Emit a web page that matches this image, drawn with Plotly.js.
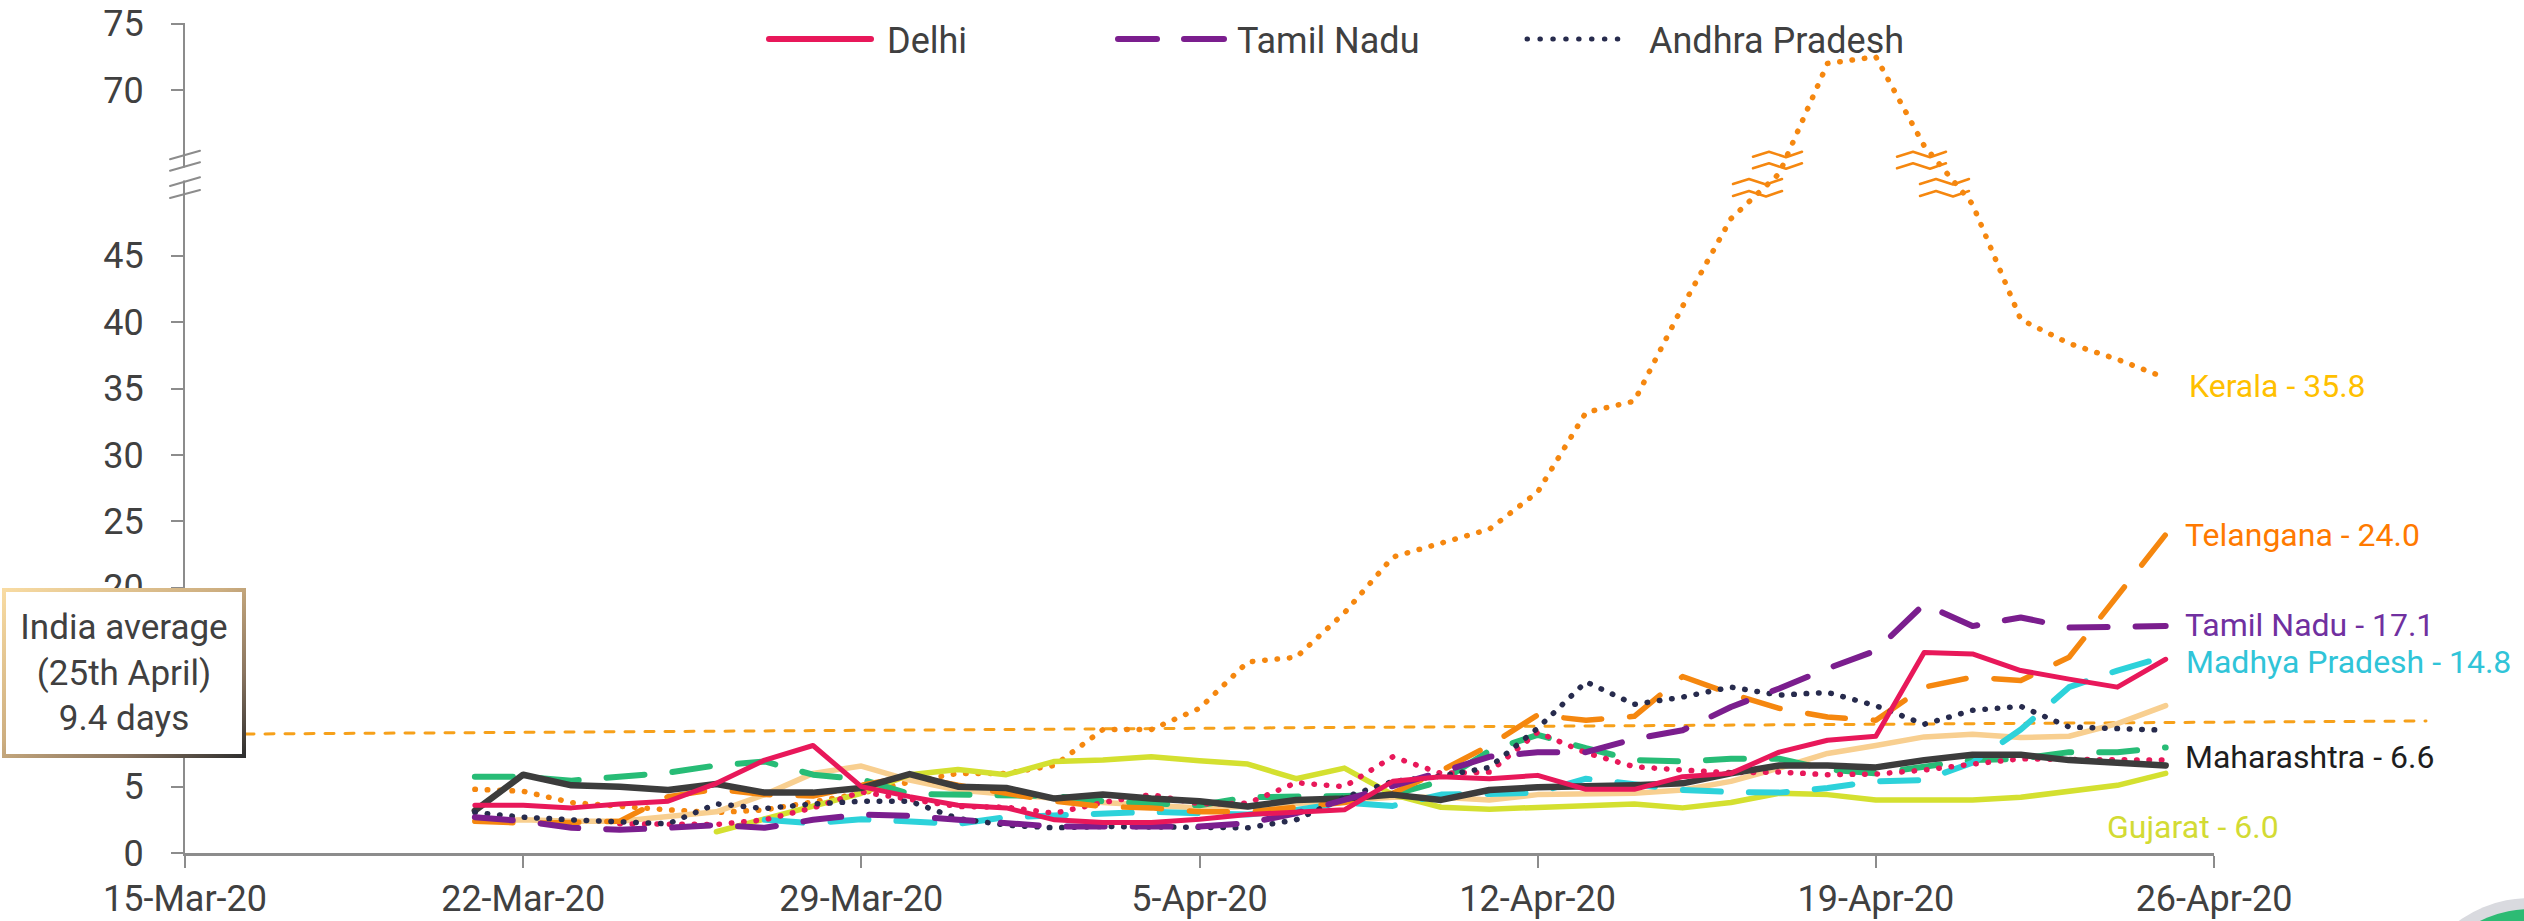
<!DOCTYPE html>
<html>
<head>
<meta charset="utf-8">
<script src="https://cdn.plot.ly/plotly-3.0.1.min.js"></script>
<style>
  html, body { margin: 0; padding: 0; background: #ffffff; }
  #chart { width: 2524px; height: 921px; }
</style>
</head>
<body>
<div id="chart"></div>
<script>
// ---------------- DATA ----------------
const dates = ['2020-03-21','2020-03-22','2020-03-23','2020-03-24','2020-03-25','2020-03-26','2020-03-27','2020-03-28','2020-03-29','2020-03-30','2020-03-31',
  '2020-04-01','2020-04-02','2020-04-03','2020-04-04','2020-04-05','2020-04-06','2020-04-07','2020-04-08','2020-04-09','2020-04-10','2020-04-11','2020-04-12',
  '2020-04-13','2020-04-14','2020-04-15','2020-04-16','2020-04-17','2020-04-18','2020-04-19','2020-04-20','2020-04-21','2020-04-22','2020-04-23','2020-04-24','2020-04-25'];

const delhi       = [3.6,3.6,3.4,3.7,3.9,5.25,7.0,8.1,5.0,4.25,3.6,3.4, 2.5,2.3,2.3,2.55,2.9,3.1,3.25,5.4,5.75,5.6,5.85,4.8, 4.8,5.75,6.0,7.6,8.5,8.8,15.1,15.0,13.75,13.1,12.5,14.6];
const tamilNadu   = [2.7,2.4,1.9,1.75,1.9,2.1,1.9,2.5,2.9,2.8,2.5,2.2, 2.0,2.0,2.0,2.0,2.25,3.0,4.0,5.0,6.1,7.25,7.6,7.6, 8.6,9.25,11.0,12.4,13.9,15.25,18.75,17.1,17.75,17.0,17.05,17.1];
const andhra      = [3.05,2.7,2.5,2.35,2.2,3.7,3.35,3.7,3.9,3.9,2.6,2.1, 1.9,2.0,2.0,1.95,1.9,2.5,4.2,5.4,5.8,6.45,9.4,12.9, 11.2,11.75,12.5,11.9,12.1,11.1,9.7,10.75,11.05,9.5,9.4,9.25];
const kerala      = [4.8,4.65,3.8,3.5,3.25,3.05,3.25,3.85,4.5,5.35,6.0,6.0, 6.6,9.3,9.3,10.9,14.4,14.75,18.1,22.3,23.3,24.4,27.2,33.2, 34.05,41.2,47.8,55.6,72.0,72.5,65.8,48.9,40.2,38.4,37.2,35.8];
const telangana   = [2.4,2.25,2.3,2.4,4.25,4.8,4.4,4.3,5.1,5.8,5.1,4.5, 3.9,3.5,3.4,3.1,3.1,3.45,3.8,4.5,6.2,8.1,10.4,10.0, 10.3,13.3,12.0,10.9,10.25,10.0,12.5,13.25,13.0,14.75,19.4,24.0];
const madhyaPr    = [null,null,null,null,null,null,2.5,2.25,2.55,2.4,2.2,2.7, 2.8,2.95,3.1,3.0,2.9,3.25,3.8,3.55,4.4,4.45,4.55,5.6, 5.2,4.75,4.6,4.55,4.9,5.4,5.5,6.8,9.3,12.5,13.75,14.8];
const maharashtra = [3.2,5.9,5.1,5.0,4.75,5.2,4.55,4.55,4.9,5.95,5.0,4.9, 4.1,4.4,4.1,3.9,3.5,4.0,4.1,4.4,4.0,4.75,4.95,5.0, 5.1,5.25,6.0,6.6,6.6,6.45,7.0,7.4,7.4,7.0,6.75,6.6];
const gujarat     = [null,null,null,null,null,1.6,2.6,3.55,4.5,5.9,6.3,5.9, 6.9,7.0,7.25,6.95,6.7,5.6,6.4,4.4,3.45,3.3,3.45,3.55, 3.7,3.4,3.8,4.5,4.4,4.0,4.0,4.0,4.2,4.6,5.1,6.0];
const rajasthan   = [2.4,2.5,2.4,2.4,2.75,3.1,4.4,6.0,6.55,5.5,4.75,4.4, 4.1,3.8,3.6,3.4,3.5,3.75,4.0,4.2,4.2,4.0,4.4,4.5, 4.5,4.75,5.4,6.4,7.5,8.1,8.75,8.95,8.7,8.8,9.75,11.1];
const uttarPr     = [5.75,5.75,5.45,5.7,6.05,6.6,6.9,5.9,5.55,4.45,4.4,4.4, 4.3,3.9,3.75,3.6,4.2,4.2,4.3,4.4,5.4,7.7,8.9,7.9, 7.0,6.9,7.1,7.1,6.3,6.0,6.5,7.0,7.1,7.6,7.6,7.95];
const karnataka   = [null,null,null,2.2,2.2,2.15,2.5,3.4,4.6,4.1,3.5,3.45, 3.0,3.8,4.4,3.7,3.75,5.3,5.0,7.25,6.0,6.1,9.1,7.55, 6.5,6.25,6.05,6.1,5.9,5.95,6.25,6.7,7.1,7.05,7.0,7.0];

const indiaAverage = 9.4;
const yTickValues = [0,5,10,15,20,25,30,35,40,45,70,75];
const yTickLabels = ['0','5','','','20','25','30','35','40','45','70','75']; // 10 and 15 sit under the India-average box
const xTickDates  = ['2020-03-15','2020-03-22','2020-03-29','2020-04-05','2020-04-12','2020-04-19','2020-04-26'];

// ---------------- BROKEN AXIS MAPPING ----------------
// values up to 50.5 keep their place, 50.5..65 are squeezed into the break, above 65 shifted down by 12.5
function mapY(v) {
  if (v === null || v === undefined) return null;
  if (v <= 50.5) return v;
  if (v >= 65) return v - 12.5;
  return 50.5 + (v - 50.5) * (2 / 14.5);
}
const mapArr = a => a.map(mapY);

// ---------------- LAYOUT GEOMETRY HELPERS ----------------
const W = 2524, H = 921;
const ML = 185, MR = 310, MT = 23, MB = 68;
const PW = W - ML - MR, PH = H - MT - MB;
const PX = px => (px - ML) / PW;           // pixel x -> paper x
const PY = py => (H - MB - py) / PH;        // pixel y -> paper y

const FONT = 'Roboto, "Open Sans", "DejaVu Sans", sans-serif';
const TXT = '#404040';

const C = {
  delhi: '#E8185A', tamil: '#7B1E8E', andhra: '#272B4D', kerala: '#F5870F',
  telangana: '#F5870F', mp: '#2DD2DA', maha: '#3C3C3C', guj: '#D4E030',
  raj: '#F8CF90', up: '#27BC76', kar: '#E8185A'
};

const DASH = '38px,28px';
const DOT = '0.5px,11.9px';

function tr(name, y, color, width, dash) {
  return {
    type: 'scatter', mode: 'lines', name: name, x: dates, y: mapArr(y),
    line: { color: color, width: width, dash: dash || 'solid', shape: 'linear' },
    connectgaps: false, hoverinfo: 'skip', showlegend: false
  };
}

const data = [
  tr('Kerala', kerala, C.kerala, 5.5, DOT),
  tr('Rajasthan', rajasthan, C.raj, 5.5),
  tr('Gujarat', gujarat, C.guj, 5.5),
  tr('Uttar Pradesh', uttarPr, C.up, 6, DASH),
  tr('Madhya Pradesh', madhyaPr, C.mp, 6, DASH),
  tr('Karnataka', karnataka, C.kar, 5.5, DOT),
  tr('Telangana', telangana, C.telangana, 5.5, DASH),
  tr('Maharashtra', maharashtra, C.maha, 6.5),
  tr('Andhra Pradesh', andhra, C.andhra, 5.5, DOT),
  tr('Tamil Nadu', tamilNadu, C.tamil, 6, DASH),
  tr('Delhi', delhi, C.delhi, 5)
];

// ---------------- SHAPES ----------------
const shapes = [];
// India average dashed line (slightly tilted as in the source)
shapes.push({ type: 'line', xref: 'paper', yref: 'y', x0: 0, x1: PX(2426),
  y0: indiaAverage - 0.46, y1: indiaAverage + 0.55, layer: 'below',
  line: { color: '#F6A01A', width: 3, dash: '9px,11px' } });

// axis break on y axis
shapes.push({ type: 'rect', xref: 'paper', yref: 'paper', x0: PX(180), x1: PX(190), y0: PY(180.5), y1: PY(167.5),
  fillcolor: '#ffffff', line: { width: 0 }, layer: 'above' });
[[159.3,150.7],[170.7,162.3],[186,177.3],[198,190]].forEach(p => {
  shapes.push({ type: 'line', xref: 'paper', yref: 'paper', x0: PX(170), x1: PX(200), y0: PY(p[0]), y1: PY(p[1]),
    line: { color: '#8C8C8C', width: 2 }, layer: 'above' });
});

// zig-zag break marks on the Kerala line
function zig(x0, yLow) {
  const pts = [[x0, yLow], [x0 + 16, yLow - 5], [x0 + 33, yLow + 0.5], [x0 + 49, yLow - 5]];
  return 'M' + pts.map(p => PX(p[0]).toFixed(5) + ',' + PY(p[1]).toFixed(5)).join(' L');
}
[[1753,156.7],[1753,168.3],[1733,184],[1733,196],[1897,156.7],[1897,168.3],[1920,184],[1920,196]].forEach(z => {
  shapes.push({ type: 'path', xref: 'paper', yref: 'paper', path: zig(z[0], z[1]),
    line: { color: '#F5870F', width: 2.5 }, layer: 'above' });
});

// legend samples
const LY = PY(39);
shapes.push({ type: 'line', xref: 'paper', yref: 'paper', x0: PX(769), x1: PX(871), y0: LY, y1: LY,
  line: { color: C.delhi, width: 6 }, layer: 'above' });
shapes.push({ type: 'line', xref: 'paper', yref: 'paper', x0: PX(1118), x1: PX(1157), y0: LY, y1: LY,
  line: { color: C.tamil, width: 6 }, layer: 'above' });
shapes.push({ type: 'line', xref: 'paper', yref: 'paper', x0: PX(1184), x1: PX(1224), y0: LY, y1: LY,
  line: { color: C.tamil, width: 6 }, layer: 'above' });
shapes.push({ type: 'line', xref: 'paper', yref: 'paper', x0: PX(1527), x1: PX(1630), y0: LY, y1: LY,
  line: { color: C.andhra, width: 5, dash: '0.5px,12.4px' }, layer: 'above' });

// corner logo fragment
shapes.push({ type: 'circle', xref: 'paper', yref: 'paper', x0: PX(2408), x1: PX(2652), y0: PY(1142), y1: PY(898),
  fillcolor: '#D9DADF', line: { width: 0 }, layer: 'above' });
shapes.push({ type: 'circle', xref: 'paper', yref: 'paper', x0: PX(2419), x1: PX(2641), y0: PY(1131), y1: PY(909),
  fillcolor: '#2DBB74', line: { width: 0 }, layer: 'above' });

// ---------------- ANNOTATIONS ----------------
const last = a => a[a.length - 1].toFixed(1);
const annotations = [];
function endLabel(text, px, py, color) {
  annotations.push({ xref: 'paper', yref: 'paper', x: PX(px), y: PY(py), xanchor: 'left', yanchor: 'middle',
    text: text, showarrow: false, borderpad: 0, font: { family: FONT, size: 32, color: color } });
}
endLabel('Kerala - ' + last(kerala), 2188, 386, '#FFC000');
endLabel('Telangana - ' + last(telangana), 2184, 535, '#FF7A00');
endLabel('Tamil Nadu - ' + last(tamilNadu), 2184, 625, '#7030A0');
endLabel('Madhya Pradesh - ' + last(madhyaPr), 2185, 662, '#30C4D8');
endLabel('Maharashtra - ' + last(maharashtra), 2184, 757, '#1E1E1E');
endLabel('Gujarat - ' + last(gujarat), 2106, 827, '#D3DB34');

function legText(text, px) {
  annotations.push({ xref: 'paper', yref: 'paper', x: PX(px), y: PY(41), xanchor: 'left', yanchor: 'middle',
    text: text, showarrow: false, borderpad: 0, font: { family: FONT, size: 36, color: TXT } });
}
legText('Delhi', 886);
legText('Tamil Nadu', 1236);
legText('Andhra Pradesh', 1648);

const boxIndex = annotations.length;
annotations.push({ xref: 'paper', yref: 'paper', x: PX(124), y: PY(672.5), xanchor: 'center', yanchor: 'middle',
  text: 'India average<br>(25th April)<br>' + indiaAverage.toFixed(1) + ' days', showarrow: false,
  align: 'center', bgcolor: '#ffffff', bordercolor: '#9A8466', borderwidth: 4, borderpad: 0,
  width: 236, height: 162, font: { family: FONT, size: 35, color: TXT } });

// ---------------- LAYOUT ----------------
const layout = {
  width: W, height: H,
  margin: { l: ML, r: MR, t: MT, b: MB, pad: 0 },
  paper_bgcolor: '#ffffff', plot_bgcolor: '#ffffff',
  showlegend: false, hovermode: false,
  xaxis: {
    type: 'date', range: ['2020-03-15', '2020-04-26'],
    tickmode: 'array', tickvals: xTickDates, tickformat: '%-d-%b-%y',
    showgrid: false, zeroline: false,
    showline: true, linecolor: '#8C8C8C', linewidth: 2.5,
    ticks: 'outside', ticklen: 12, tickwidth: 2, tickcolor: '#8C8C8C',
    ticklabelstandoff: 0,
    tickfont: { family: FONT, size: 36, color: TXT }
  },
  yaxis: {
    range: [0, PH / 13.27],
    tickmode: 'array', tickvals: yTickValues.map(mapY), ticktext: yTickLabels,
    showgrid: false, zeroline: false,
    showline: true, linecolor: '#8C8C8C', linewidth: 2,
    ticks: 'outside', ticklen: 12, tickwidth: 2, tickcolor: '#8C8C8C',
    ticklabelstandoff: 20,
    tickfont: { family: FONT, size: 36, color: TXT }
  },
  shapes: shapes,
  annotations: annotations
};

Plotly.newPlot('chart', data, layout, { displayModeBar: false, staticPlot: true }).then(function (gd) {
  gd.querySelectorAll('.scatterlayer path.js-line').forEach(function (p) {
    p.style.strokeLinecap = 'round'; p.style.strokeLinejoin = 'round';
  });
  gd.querySelectorAll('.shapelayer path').forEach(function (p) {
    p.style.strokeLinecap = 'round'; p.style.strokeLinejoin = 'round';
  });
  // gradient border of the India-average box
  const ann = gd.querySelector('.annotation[data-index="' + boxIndex + '"]');
  if (ann) {
    const rect = ann.querySelector('rect.bg');
    if (rect) {
      const svg = rect.ownerSVGElement;
      const NS = 'http://www.w3.org/2000/svg';
      let defs = svg.querySelector('defs');
      if (!defs) { defs = document.createElementNS(NS, 'defs'); svg.insertBefore(defs, svg.firstChild); }
      const g = document.createElementNS(NS, 'linearGradient');
      g.setAttribute('id', 'boxgrad');
      g.setAttribute('x1', '0'); g.setAttribute('y1', '0'); g.setAttribute('x2', '1'); g.setAttribute('y2', '1');
      [['0', '#F8DBA2'], ['0.45', '#CDAE80'], ['0.75', '#8A7560'], ['1', '#2F2F2F']].forEach(function (s) {
        const st = document.createElementNS(NS, 'stop');
        st.setAttribute('offset', s[0]); st.setAttribute('stop-color', s[1]);
        g.appendChild(st);
      });
      defs.appendChild(g);
      rect.style.stroke = 'url(#boxgrad)';
    }
  }
});
</script>
</body>
</html>
